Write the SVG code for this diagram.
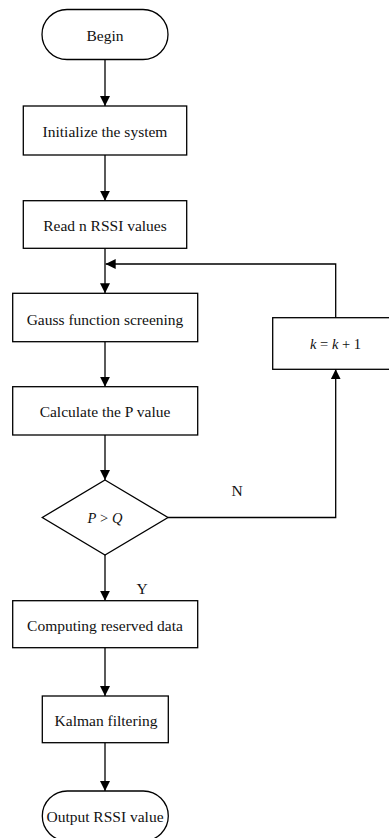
<svg xmlns="http://www.w3.org/2000/svg" width="389" height="838" viewBox="0 0 389 838">
<defs>
<style>
.s{fill:#fff;stroke:#000;stroke-width:1.3}
.c{fill:none;stroke:#000;stroke-width:1.3}
text{font-family:"Liberation Serif","Times New Roman",serif;font-size:15.5px;fill:#111;text-anchor:middle;dominant-baseline:central}
.m{font-size:14.5px}
.i{font-style:italic}
</style>
<marker id="ah" viewBox="0 0 10 10" refX="10" refY="5" markerWidth="10" markerHeight="10" markerUnits="userSpaceOnUse" orient="auto">
<path d="M0,0 L10,5 L0,10 z" fill="#000"/>
</marker>
</defs>
<g id="connectors">
<line class="c" x1="105" y1="60" x2="105" y2="106" marker-end="url(#ah)"/>
<line class="c" x1="105" y1="155" x2="105" y2="200.7" marker-end="url(#ah)"/>
<line class="c" x1="105" y1="248.3" x2="105" y2="293.3" marker-end="url(#ah)"/>
<line class="c" x1="105" y1="341.7" x2="105" y2="386.7" marker-end="url(#ah)"/>
<line class="c" x1="105" y1="435" x2="105" y2="480" marker-end="url(#ah)"/>
<line class="c" x1="105" y1="555" x2="105" y2="600.7" marker-end="url(#ah)"/>
<line class="c" x1="105" y1="647.7" x2="105" y2="696" marker-end="url(#ah)"/>
<line class="c" x1="105" y1="742.7" x2="105" y2="791" marker-end="url(#ah)"/>
<polyline class="c" points="168,517.5 335.7,517.5 335.7,369.3" marker-end="url(#ah)"/>
<polyline class="c" points="335.7,317.7 335.7,264 105.7,264" marker-end="url(#ah)"/>
<text x="237" y="490">N</text>
<text x="142" y="588">Y</text>
</g>
<g id="begin">
<rect class="s" x="42" y="9.5" width="126" height="50" rx="25"/>
<text x="105" y="35">Begin</text>
</g>
<g id="init">
<rect class="s" x="23.3" y="106" width="163.4" height="49"/>
<text x="105" y="131">Initialize the system</text>
</g>
<g id="read">
<rect class="s" x="23.3" y="200.7" width="163.4" height="47.6"/>
<text x="105" y="225">Read n RSSI values</text>
</g>
<g id="gauss">
<rect class="s" x="12.7" y="293.3" width="185" height="48.4"/>
<text x="105" y="319">Gauss function screening</text>
</g>
<g id="calc">
<rect class="s" x="12.7" y="386.7" width="185" height="48.3"/>
<text x="105" y="411">Calculate the P value</text>
</g>
<g id="decision">
<polygon class="s" points="105,480 168,517.5 105,555 42.3,517.5"/>
<text class="m" x="105" y="518"><tspan class="i">P</tspan> &gt; <tspan class="i">Q</tspan></text>
</g>
<g id="increment">
<rect class="s" x="272.7" y="317.7" width="126" height="51.6"/>
<text class="m" x="335.5" y="344"><tspan class="i">k</tspan> = <tspan class="i">k</tspan> + 1</text>
</g>
<g id="compute">
<rect class="s" x="12.7" y="600.7" width="185" height="47"/>
<text x="105" y="625">Computing reserved data</text>
</g>
<g id="kalman">
<rect class="s" x="42.3" y="696" width="126" height="46.7"/>
<text x="106" y="720">Kalman filtering</text>
</g>
<g id="output">
<rect class="s" x="42.3" y="791" width="126" height="50" rx="25"/>
<text x="105" y="816">Output RSSI value</text>
</g>
</svg>
